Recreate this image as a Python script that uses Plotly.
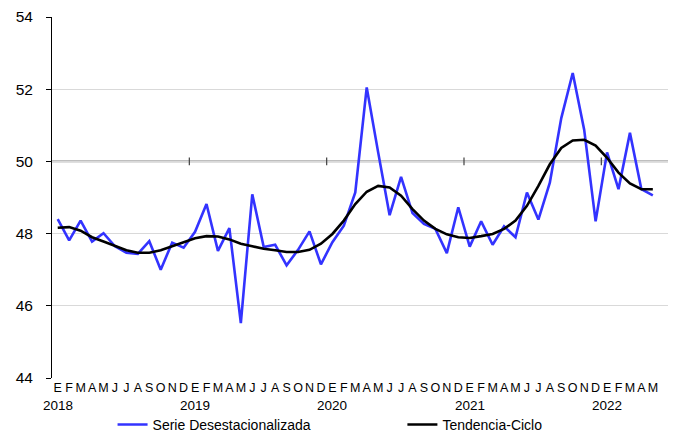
import plotly.graph_objects as go

months = ["E", "F", "M", "A", "M", "J", "J", "A", "S", "O", "N", "D"]
years = ["2018", "2019", "2020", "2021", "2022"]

serie = [48.40, 47.81, 48.36, 47.78, 48.01, 47.65, 47.47, 47.44, 47.79, 47.00, 47.75, 47.61,
         48.05, 48.82, 47.52, 48.15, 45.52, 49.09, 47.63, 47.69, 47.12, 47.55, 48.06, 47.15,
         47.76, 48.22, 49.14, 52.05, 50.25, 48.51, 49.57, 48.57, 48.27, 48.13, 47.46, 48.73,
         47.64, 48.34, 47.69, 48.20, 47.90, 49.14, 48.39, 49.41, 51.20, 52.45, 50.88, 48.34,
         50.25, 49.23, 50.79, 49.23, 49.06]
tendencia = [48.16, 48.18, 48.08, 47.90, 47.78, 47.65, 47.54, 47.47, 47.47, 47.54, 47.65, 47.76,
             47.87, 47.93, 47.92, 47.84, 47.72, 47.65, 47.58, 47.54, 47.49, 47.49, 47.55, 47.72,
             47.99, 48.36, 48.82, 49.16, 49.32, 49.28, 49.05, 48.68, 48.36, 48.13, 47.98, 47.90,
             47.88, 47.93, 47.99, 48.13, 48.36, 48.77, 49.32, 49.92, 50.37, 50.58, 50.60, 50.44,
             50.10, 49.69, 49.39, 49.23, 49.23]

n_slots = 54  # one empty slot at the end of the axis
x_idx = list(range(len(serie)))
tick_text = [months[i % 12] for i in x_idx]
year_pos = [12 * k for k in range(len(years))]
year_bounds = [12 * k - 0.5 for k in range(1, len(years))]

font = "Liberation Sans, Arial, sans-serif"

fig = go.Figure()
fig.add_trace(go.Scatter(x=x_idx, y=serie, mode="lines", name="Serie Desestacionalizada",
                         line=dict(color="#3333FF", width=2.6), legend="legend"))
fig.add_trace(go.Scatter(x=x_idx, y=tendencia, mode="lines", name="Tendencia-Ciclo",
                         line=dict(color="#000000", width=2.6), legend="legend2"))

# reference line at 50 with year-boundary ticks
fig.add_shape(type="line", xref="paper", yref="y", x0=0, x1=1, y0=50, y1=50,
              line=dict(color="#7f7f7f", width=1.6), layer="between")
for b in year_bounds:
    fig.add_shape(type="line", xref="x", yref="y", x0=b, x1=b, y0=49.89, y1=50.11,
                  line=dict(color="#404040", width=1.2), layer="between")

for yp, yr in zip(year_pos, years):
    fig.add_annotation(x=yp, y=-0.075, xref="x", yref="paper", text=yr, showarrow=False,
                       font=dict(size=13.5, color="#000000", family=font), yanchor="middle")

legend_common = dict(orientation="h", y=-0.130, xanchor="left", yanchor="middle",
                     font=dict(size=14, family=font), bgcolor="rgba(0,0,0,0)")

fig.update_layout(
    width=668, height=428,
    margin=dict(l=44, r=6, t=9, b=58, autoexpand=False),
    paper_bgcolor="white", plot_bgcolor="white",
    font=dict(family=font, color="#000000"),
    showlegend=True,
    legend=dict(x=0.098, **legend_common),
    legend2=dict(x=0.567, **legend_common),
    xaxis=dict(range=[-0.5, n_slots - 0.5], tickmode="array", tickvals=x_idx, ticktext=tick_text,
               showgrid=False, zeroline=False, showline=False, ticks="",
               tickfont=dict(size=12.5, family=font), tickangle=0, fixedrange=True,
               automargin=False),
    yaxis=dict(range=[44, 54], tickvals=[44, 46, 48, 50, 52, 54], showgrid=True,
               gridcolor="#d9d9d9", gridwidth=1, zeroline=False, showline=True,
               linecolor="#000000", linewidth=1, ticks="outside", ticklen=5, tickcolor="#000000",
               tickfont=dict(size=15.5, family=font), ticklabelstandoff=10, automargin=False,
               ticklabeloverflow="allow"),
)

fig.write_html("out.html")
